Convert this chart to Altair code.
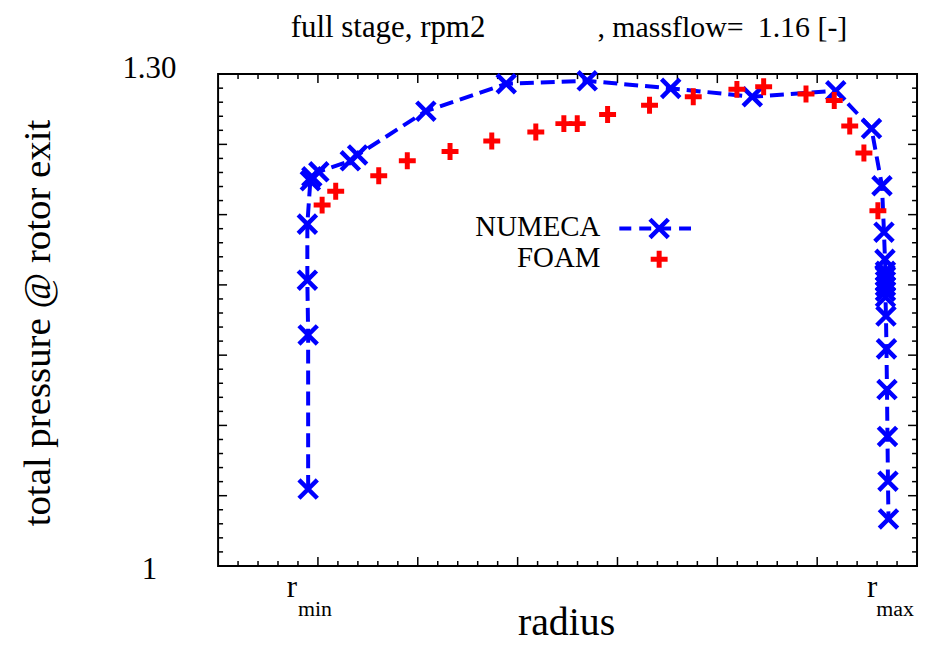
import altair as alt
import pandas as pd

# ---- data ----
numeca_x = [0.902, 0.902, 0.894, 0.894, 0.924, 0.939, 1.009, 1.324, 1.397, 2.081,
            2.886, 3.697, 4.533, 5.350, 6.186, 6.544, 6.649, 6.669, 6.679, 6.684,
            6.684, 6.684, 6.684, 6.684, 6.684, 6.689, 6.694, 6.699, 6.704, 6.709, 6.714]
numeca_y = [1.0469, 1.1409, 1.1743, 1.2085, 1.2349, 1.2374, 1.2404, 1.2471, 1.2507, 1.2774,
            1.2941, 1.2959, 1.2913, 1.2862, 1.2898, 1.2668, 1.2319, 1.2036, 1.1870, 1.1797,
            1.1767, 1.1737, 1.1706, 1.1676, 1.1640, 1.1524, 1.1324, 1.1076, 1.0790, 1.0517, 1.0287]

foam_x = [1.042, 1.178, 1.609, 1.895, 2.323, 2.741, 3.182, 3.463, 3.597, 3.901,
          4.321, 4.759, 5.196, 5.464, 5.888, 6.171, 6.326, 6.468, 6.608]
foam_y = [1.2201, 1.2286, 1.2380, 1.2471, 1.2528, 1.2592, 1.2647, 1.2698, 1.2698, 1.2754,
          1.2810, 1.2862, 1.2907, 1.2923, 1.2879, 1.2839, 1.2683, 1.2519, 1.2167]

x_domain = [0, 7]
y_domain = [1.0, 1.3]
y_label_values = [1.0, 1.3]
y_label_texts = ["1", "1.30"]
x_label_values = [0.90, 6.71]
x_label_main = ["r", "r"]
x_label_sub = ["min", "max"]

title_parts = ["full stage, rpm2", ", massflow=", "1.16 [-]"]
legend_names = ["NUMECA", "FOAM"]

W, H = 702, 494
FONT = "'Liberation Serif', 'Times New Roman', 'DejaVu Serif', serif"
BLUE = "#0000ff"
RED = "#ff0000"
X_SHAPE = "M-1,-1L1,1M-1,1L1,-1"
PLUS_SHAPE = "M-1,0L1,0M0,-1L0,1"

xs = alt.Scale(domain=x_domain, nice=False, zero=False)
ys = alt.Scale(domain=y_domain, nice=False, zero=False)

numeca = pd.DataFrame({"x": numeca_x, "y": numeca_y, "i": list(range(len(numeca_x)))})
foam = pd.DataFrame({"x": foam_x, "y": foam_y})

# tick positions
x_major = [float(k) for k in range(1, 7)]
x_minor = [k * 0.2 for k in range(1, 35) if k % 5 != 0]
ystep = 0.3 / 7
y_major = [1.0 + k * ystep for k in range(1, 7)]
y_minor = [1.0 + k * ystep / 5 for k in range(1, 35) if k % 5 != 0]

layers = []

def xticks(vals, ln):
    d = pd.DataFrame({"t": vals})
    bot = alt.Chart(d).mark_rule(color="black", strokeWidth=1.5).encode(
        x=alt.X("t:Q", scale=xs, axis=None), y=alt.value(H), y2=alt.value(H - ln))
    top = alt.Chart(d).mark_rule(color="black", strokeWidth=1.5).encode(
        x=alt.X("t:Q", scale=xs, axis=None), y=alt.value(0), y2=alt.value(ln))
    return [bot, top]

def yticks(vals, ln):
    d = pd.DataFrame({"t": vals})
    left = alt.Chart(d).mark_rule(color="black", strokeWidth=1.5).encode(
        y=alt.Y("t:Q", scale=ys, axis=None), x=alt.value(0), x2=alt.value(ln))
    right = alt.Chart(d).mark_rule(color="black", strokeWidth=1.5).encode(
        y=alt.Y("t:Q", scale=ys, axis=None), x=alt.value(W), x2=alt.value(W - ln))
    return [left, right]

layers += xticks(x_major, 9) + xticks(x_minor, 5) + yticks(y_major, 9) + yticks(y_minor, 5)

line = alt.Chart(numeca).mark_line(color=BLUE, strokeWidth=4, strokeDash=[14, 7]).encode(
    x=alt.X("x:Q", scale=xs, axis=None),
    y=alt.Y("y:Q", scale=ys, axis=None),
    order="i:Q")
npts = alt.Chart(numeca).mark_point(shape=X_SHAPE, filled=False, stroke=BLUE,
                                    strokeWidth=4.5, size=340, opacity=1).encode(
    x=alt.X("x:Q", scale=xs, axis=None), y=alt.Y("y:Q", scale=ys, axis=None))
fpts = alt.Chart(foam).mark_point(shape=PLUS_SHAPE, filled=False, stroke=RED,
                                  strokeWidth=5, size=289, opacity=1).encode(
    x=alt.X("x:Q", scale=xs, axis=None), y=alt.Y("y:Q", scale=ys, axis=None))
layers += [line, npts, fpts]

# y tick labels
for v, t, off in zip(y_label_values, y_label_texts, [4, -5]):
    yl = pd.DataFrame({"v": [v], "t": [t]})
    layers.append(alt.Chart(yl).mark_text(font=FONT, fontSize=31, align="center",
                                          baseline="middle", dy=off).encode(
        x=alt.value(-69), y=alt.Y("v:Q", scale=ys, axis=None), text="t:N"))

# x tick labels with subscripts
xl = pd.DataFrame({"v": x_label_values, "m": x_label_main, "s": x_label_sub})
layers.append(alt.Chart(xl).mark_text(font=FONT, fontSize=31, align="center",
                                      baseline="alphabetic", dx=-16).encode(
    x=alt.X("v:Q", scale=xs, axis=None), y=alt.value(H + 31), text="m:N"))
layers.append(alt.Chart(xl).mark_text(font=FONT, fontSize=22, align="center",
                                      baseline="alphabetic", dx=7).encode(
    x=alt.X("v:Q", scale=xs, axis=None), y=alt.value(H + 50), text="s:N"))

# axis titles
one = pd.DataFrame({"a": [0]})
layers.append(alt.Chart(one).mark_text(text="radius", font=FONT, fontSize=40,
                                       align="center", baseline="alphabetic").encode(
    x=alt.value(350), y=alt.value(H + 69)))
layers.append(alt.Chart(one).mark_text(text="total pressure @ rotor exit", font=FONT,
                                       fontSize=39, align="center", baseline="middle",
                                       angle=270).encode(
    x=alt.value(-181), y=alt.value(250)))

# title pieces
layers.append(alt.Chart(one).mark_text(text=title_parts[0], font=FONT, fontSize=31,
                                       align="left", baseline="alphabetic").encode(
    x=alt.value(73), y=alt.value(-37)))
layers.append(alt.Chart(one).mark_text(text=title_parts[1], font=FONT, fontSize=30,
                                       align="left", baseline="alphabetic").encode(
    x=alt.value(381), y=alt.value(-37)))
layers.append(alt.Chart(one).mark_text(text=title_parts[2], font=FONT, fontSize=30,
                                       align="left", baseline="alphabetic").encode(
    x=alt.value(542), y=alt.value(-37)))

# legend
layers.append(alt.Chart(one).mark_text(text=legend_names[0], font=FONT, fontSize=29,
                                       align="right", baseline="alphabetic").encode(
    x=alt.value(384), y=alt.value(163)))
layers.append(alt.Chart(one).mark_text(text=legend_names[1], font=FONT, fontSize=29,
                                       align="right", baseline="alphabetic").encode(
    x=alt.value(384), y=alt.value(194)))
layers.append(alt.Chart(one).mark_rule(color=BLUE, strokeWidth=4, strokeDash=[12, 8]).encode(
    x=alt.value(403), x2=alt.value(478), y=alt.value(155)))
layers.append(alt.Chart(one).mark_point(shape=X_SHAPE, filled=False, stroke=BLUE,
                                        strokeWidth=4.5, size=340, opacity=1).encode(
    x=alt.value(443), y=alt.value(155)))
layers.append(alt.Chart(one).mark_point(shape=PLUS_SHAPE, filled=False, stroke=RED,
                                        strokeWidth=5, size=289, opacity=1).encode(
    x=alt.value(443), y=alt.value(186)))

chart = alt.layer(*layers).properties(
    width=W, height=H,
    autosize=alt.AutoSizeParams(type="none"),
    padding={"left": 211, "top": 65, "right": 6, "bottom": 78},
    background="white",
).configure_view(stroke="black", strokeWidth=2)

chart.save("out.html", embed_options={"renderer": "svg", "actions": False})
